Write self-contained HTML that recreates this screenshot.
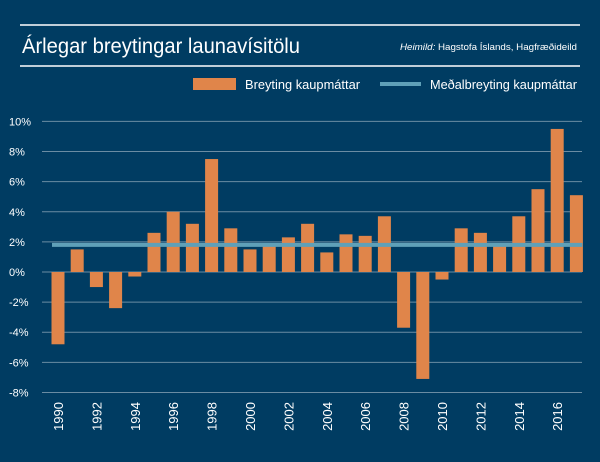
<!DOCTYPE html>
<html><head><meta charset="utf-8"><style>
body{margin:0;background:#003c62;}
svg{display:block;font-family:"Liberation Sans",sans-serif;}
</style></head><body>
<svg id="c" width="600" height="462">
<rect width="600" height="462" fill="#003c62"/>
<line x1="20" y1="25" x2="580" y2="25" stroke="#fff" stroke-width="1.5"/>
<line x1="20" y1="66" x2="580" y2="66" stroke="#fff" stroke-width="1.5"/>
<text x="22" y="53" fill="#fff" font-size="21" textLength="278" lengthAdjust="spacingAndGlyphs">Árlegar breytingar launavísitölu</text>
<text x="400" y="50" fill="#fff" font-size="9.5" textLength="177" lengthAdjust="spacingAndGlyphs"><tspan font-style="italic">Heimild:</tspan> Hagstofa Íslands, Hagfræðideild</text>
<rect x="193" y="78" width="43" height="12" fill="#e0854a"/>
<text x="245" y="89" fill="#fff" font-size="13" textLength="115" lengthAdjust="spacingAndGlyphs">Breyting kaupmáttar</text>
<line x1="380" y1="84" x2="421" y2="84" stroke="#5fa0b8" stroke-width="4"/>
<text x="430" y="89" fill="#fff" font-size="13" textLength="147" lengthAdjust="spacingAndGlyphs">Meðalbreyting kaupmáttar</text>
<g id="grid"></g><g id="bars"></g><g id="avg"></g><g id="xl"></g>
</svg>
<script>
const years=[1990,1991,1992,1993,1994,1995,1996,1997,1998,1999,2000,2001,2002,2003,2004,2005,2006,2007,2008,2009,2010,2011,2012,2013,2014,2015,2016,2017];
const values=[-4.8,1.5,-1.0,-2.4,-0.3,2.6,4.0,3.2,7.5,2.9,1.5,1.9,2.3,3.2,1.3,2.5,2.4,3.7,-3.7,-7.1,-0.5,2.9,2.6,1.8,3.7,5.5,9.5,5.1];
const avgValue=1.8;
const yTicks=[10,8,6,4,2,0,-2,-4,-6,-8];
const NS='http://www.w3.org/2000/svg';
const y=v=>272-v*15.06;
const x=i=>58+i*19.2;
function mk(t,a,p){const e=document.createElementNS(NS,t);for(const k in a)e.setAttribute(k,a[k]);document.getElementById(p).appendChild(e);return e;}
yTicks.forEach(t=>{
 const l=mk('line',{x1:42,x2:582,y1:y(t),y2:y(t),stroke:'#6a8ca3','stroke-width':1},'grid');
 
 
 const tx=mk('text',{x:9,y:y(t)+4,fill:'#fff','font-size':11},'grid');tx.textContent=t+'%';
 
 
});
values.forEach((v,i)=>{
 const r=mk('rect',{x:x(i)-6.5,width:13,y:Math.min(y(v),y(0)),height:Math.abs(y(v)-y(0)),fill:'#e0854a'},'bars');
 
 
 if(i%2===0){
  const t=mk('text',{x:0,y:0,fill:'#fff','font-size':13,'text-anchor':'end',transform:`translate(${x(i)+5},402) rotate(-90)`},'xl');t.textContent=years[i];
  
  
 }
});
const al=mk('line',{x1:x(0)-6,x2:x(years.length-1)+6,y1:y(avgValue),y2:y(avgValue),stroke:'#5fa0b8','stroke-width':4},'avg');


</script>
</body></html>
